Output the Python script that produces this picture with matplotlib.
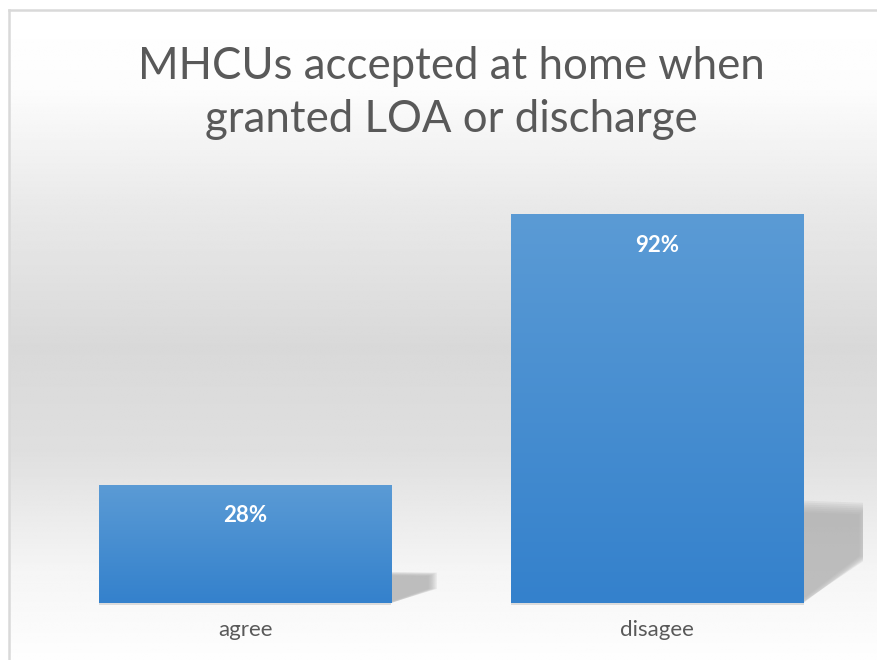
import numpy as np
import matplotlib
matplotlib.use('Agg')
import matplotlib.pyplot as plt
from matplotlib.patches import Polygon, Rectangle
from matplotlib.colors import LinearSegmentedColormap

# ---- data ----
categories = ['agree', 'disagee']
values = [28, 92]
value_labels = ['28%', '92%']
title_text = 'MHCUs accepted at home when\ngranted LOA or discharge'

W, H = 878, 660
FONT = ['Lato', 'DejaVu Sans']
plt.rcParams['font.family'] = FONT

fig = plt.figure(figsize=(W / 100, H / 100), dpi=100)
fig.patch.set_facecolor('white')

# ---- background gradient of chart area ----
bg = fig.add_axes([9 / W, 0, 1 - 9 / W, (H - 9) / H], zorder=0)
pos = [0.0, 0.12, 0.30, 0.52, 0.68, 0.86, 1.0]
lev = [1.0, 0.99, 0.915, 0.85, 0.875, 0.96, 0.995]
yy = np.linspace(0, 1, 400)
col = np.interp(yy, pos, lev)
img = np.repeat(col[:, None], 4, axis=1)
bg.imshow(img, cmap='gray', vmin=0, vmax=1, aspect='auto',
          extent=(0, 1, 1, 0), interpolation='bilinear')
bg.set_xlim(0, 1)
bg.set_ylim(1, 0)
bg.axis('off')

# border (top and left visible only)
border_kw = dict(color='#d9d9d9', linewidth=1.8, zorder=1)
fig.add_artist(plt.Line2D([9.5 / W, 9.5 / W], [0, 1 - 9.5 / H],
                          transform=fig.transFigure, **border_kw))
fig.add_artist(plt.Line2D([9.5 / W, 1.0], [1 - 9.5 / H, 1 - 9.5 / H],
                          transform=fig.transFigure, **border_kw))

# ---- main axes ----
ax = fig.add_axes([39 / W, 57 / H, (863.5 - 39) / W, (603 - 180) / H], zorder=2)
ax.patch.set_alpha(0)
x = np.arange(len(categories))
bw = 0.709
bars = ax.bar(x, values, width=bw, color='none', edgecolor='none', zorder=3)

bar_cmap = LinearSegmentedColormap.from_list('bar', ['#3481cc', '#5b9bd5'])
grad = np.linspace(0, 1, 256)[:, None]

for xi, v, p in zip(x, values, bars):
    x0 = p.get_x()
    x1 = x0 + p.get_width()
    # perspective shadow to the right
    sh = 0.25 * v
    dx = 0.08 + 0.00075 * v
    base = np.array([[x1 - 0.05, 0], [x1 - 0.05, sh], [x1 + dx, sh * 0.97],
                     [x1 + dx, sh * 0.48], [x1, 0]])
    cx, cy = base[:, 0].mean(), base[:, 1].mean()
    for s in [1.12, 1.08, 1.04, 1.0, 0.96, 0.92, 0.88]:
        pts = np.column_stack([cx + (base[:, 0] - cx) * s, cy + (base[:, 1] - cy) * s])
        pts[:, 1] = np.maximum(pts[:, 1], 0)
        ax.add_patch(Polygon(pts, closed=True, facecolor='#a8a8a8',
                             edgecolor='none', alpha=0.16, zorder=2))
    # soft line under bar
    ax.add_patch(Rectangle((x0, -0.45), x1 - x0, 0.45, facecolor='#d4d4d4',
                           edgecolor='none', alpha=0.8, zorder=2.5,
                           clip_on=False))
    # gradient fill
    im = ax.imshow(grad, extent=(x0, x1, 0, v), origin='lower', cmap=bar_cmap,
                   aspect='auto', zorder=3, interpolation='bilinear')
    im.set_clip_path(p)

for xi, v, lab in zip(x, values, value_labels):
    ax.annotate(lab, (xi, v), xytext=(0, -22.5), textcoords='offset points',
                ha='center', va='center', color='white', fontsize=16,
                fontweight='bold')

ax.set_xlim(-0.5, len(categories) - 0.5)
ax.set_ylim(0, 100)
ax.set_xticks(x)
ax.set_xticklabels(categories, fontsize=16, color='#595959')
ax.tick_params(axis='x', length=0, pad=12)
ax.set_yticks([])
for s in ax.spines.values():
    s.set_visible(False)

fig.text(451 / W, 1 - 93 / H, title_text, ha='center', va='center',
         fontsize=31.5, color='#595959', linespacing=1.38,
         multialignment='center')

fig.savefig('out.png', dpi=100, facecolor='white')
